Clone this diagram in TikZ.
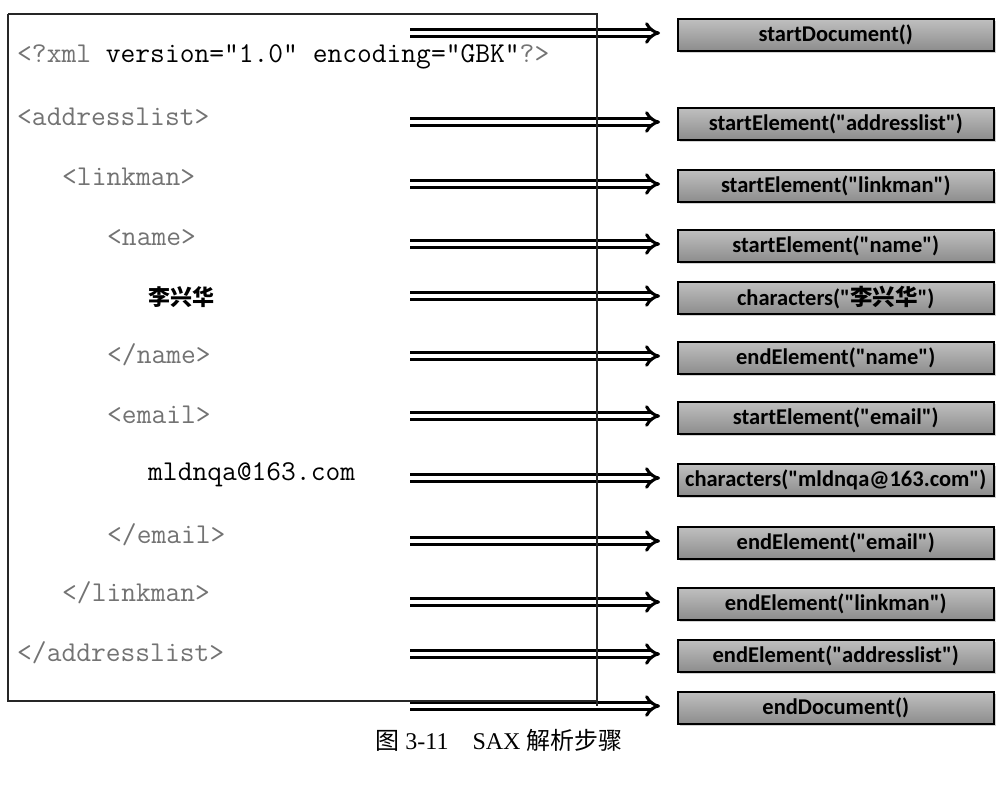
\documentclass[tikz,border=0pt]{standalone}
\usepackage{fontspec}
\setmainfont{Liberation Serif}
\newfontfamily\boxfont{Carlito}
\newfontfamily\cjk{Noto Sans CJK SC}
\usetikzlibrary{arrows.meta,shadows}

\tikzset{
  code/.style={anchor=west, inner sep=0pt, font=\ttfamily\fontsize{28.7}{28.7}\selectfont},
  tag/.style={code, text=black!55},
  call/.style={draw, line width=1.5pt, anchor=west, inner sep=0pt,
    minimum width=316pt, minimum height=32pt,
    top color=black!25, bottom color=black!45,
    drop shadow={shadow xshift=2pt, shadow yshift=-2pt, opacity=.35},
    font=\boxfont\bfseries\fontsize{22.5}{22.5}\selectfont},
  sax/.style={double, double distance=4pt, line width=3pt,
    -{Implies[scale=1.6]}, shorten >=17pt}
}

\begin{document}
\begin{tikzpicture}[x=1pt, y=-1pt]
    \useasboundingbox (0,0) rectangle (1002,788);

    % xml source
    \node[code] (xml) at (17,57) {{\color{black!55}<?xml} version="1.0" encoding="GBK"{\color{black!55}?>}};
    \node[tag] (al) at (17,117) {<addresslist>};
    \node[tag] (lm) at (62,177) {<linkman>};
    \node[tag] (nm) at (107,238) {<name>};
    \node[code, font=\cjk\bfseries\fontsize{22}{22}\selectfont] (nmv) at (148,297) {李兴华};
    \node[tag] (nme) at (107,355) {</name>};
    \node[tag] (em) at (107,415) {<email>};
    \node[code] (emv) at (148,475) {mldnqa@163.com};
    \node[tag] (eme) at (107,535) {</email>};
    \node[tag] (lme) at (62,593) {</linkman>};
    \node[tag] (ale) at (17,653) {</addresslist>};

    % sax events
    \foreach \i/\y/\t in {1/35/{startDocument()},
                          2/124/{startElement("addresslist")},
                          3/186/{startElement("linkman")},
                          4/246/{startElement("name")},
                          5/298/{characters("{\cjk 李兴华}")},
                          6/358/{endElement("name")},
                          7/418/{startElement("email")},
                          8/480/{characters("mldnqa@163.com")},
                          9/543/{endElement("email")},
                          10/604/{endElement("linkman")},
                          11/656/{endElement("addresslist")},
                          12/708/{endDocument()}} {
        \node[call] (b\i) at (677,\y) {\t};
        \coordinate (a\i) at (410,\y-2);
        \draw[sax] (a\i) -- (a\i -| b\i.west);
    }

    % frame
    \draw[line width=1.2pt, black!85] (8,14) -- (597,14) -- (597,706);
    \draw[line width=1.2pt, black!85] (8,14) -- (8,701) -- (597,701);

    \node[font=\fontsize{24}{24}\selectfont] (cap) at (499,740) {{\cjk 图} 3-11\quad SAX {\cjk 解析步骤}};

\end{tikzpicture}
\end{document}
